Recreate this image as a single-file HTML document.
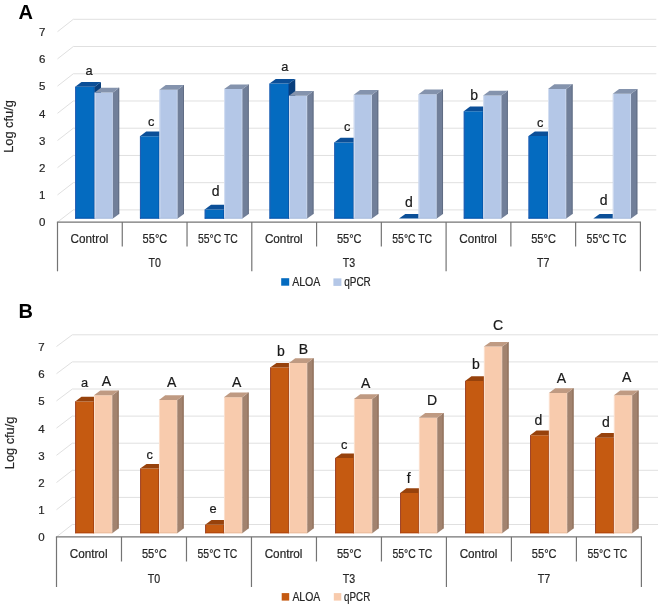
<!DOCTYPE html>
<html><head><meta charset="utf-8"><title>Chart</title>
<style>html,body{margin:0;padding:0;background:#fff;}body{width:660px;height:605px;overflow:hidden;font-family:"Liberation Sans",sans-serif;}svg{display:block;will-change:transform;}</style>
</head><body>
<svg width="660" height="605" viewBox="0 0 660 605" font-family='"Liberation Sans", sans-serif'>
<style>.ax{stroke:#262626;stroke-width:0.2px}</style><rect width="660" height="605" fill="#fff"/>
<polyline points="57.5,222.1 73.3,209.9 656.3,209.9" fill="none" stroke="#e0e0e0" stroke-width="1"/>
<polyline points="57.5,194.9 73.3,182.67 656.3,182.67" fill="none" stroke="#e0e0e0" stroke-width="1"/>
<polyline points="57.5,167.7 73.3,155.44 656.3,155.44" fill="none" stroke="#e0e0e0" stroke-width="1"/>
<polyline points="57.5,140.5 73.3,128.21 656.3,128.21" fill="none" stroke="#e0e0e0" stroke-width="1"/>
<polyline points="57.5,113.3 73.3,100.98 656.3,100.98" fill="none" stroke="#e0e0e0" stroke-width="1"/>
<polyline points="57.5,86.1 73.3,73.75 656.3,73.75" fill="none" stroke="#e0e0e0" stroke-width="1"/>
<polyline points="57.5,58.9 73.3,46.52 656.3,46.52" fill="none" stroke="#e0e0e0" stroke-width="1"/>
<polyline points="57.5,31.7 73.3,19.29 656.3,19.29" fill="none" stroke="#e0e0e0" stroke-width="1"/>
<text x="45.3" y="226.3" text-anchor="end" font-size="11.5" fill="#262626" stroke="#262626" stroke-width="0.2">0</text>
<text x="45.3" y="199.1" text-anchor="end" font-size="11.5" fill="#262626" stroke="#262626" stroke-width="0.2">1</text>
<text x="45.3" y="171.9" text-anchor="end" font-size="11.5" fill="#262626" stroke="#262626" stroke-width="0.2">2</text>
<text x="45.3" y="144.7" text-anchor="end" font-size="11.5" fill="#262626" stroke="#262626" stroke-width="0.2">3</text>
<text x="45.3" y="117.5" text-anchor="end" font-size="11.5" fill="#262626" stroke="#262626" stroke-width="0.2">4</text>
<text x="45.3" y="90.3" text-anchor="end" font-size="11.5" fill="#262626" stroke="#262626" stroke-width="0.2">5</text>
<text x="45.3" y="63.1" text-anchor="end" font-size="11.5" fill="#262626" stroke="#262626" stroke-width="0.2">6</text>
<text x="45.3" y="35.9" text-anchor="end" font-size="11.5" fill="#262626" stroke="#262626" stroke-width="0.2">7</text>
<text class="ax" transform="translate(12.8,126.5) rotate(-90)" text-anchor="middle" font-size="13" fill="#262626" textLength="52.6" lengthAdjust="spacingAndGlyphs">Log cfu/g</text>
<polygon points="75.18,86.8 94.68,86.8 94.68,218.6 75.18,218.6" fill="#046bc0"/>
<rect x="75.18" y="86.8" width="0.9" height="131.8" fill="#2a5cb0"/>
<rect x="93.78" y="86.8" width="0.9" height="131.8" fill="#0550a6"/>
<rect x="75.18" y="217.7" width="19.5" height="0.9" fill="#0750a8"/>
<polygon points="94.68,86.8 100.98,82.1 100.98,213.9 94.68,218.6" fill="#093f7c"/>
<polygon points="75.18,86.8 81.48,82.1 100.98,82.1 94.68,86.8" fill="#0b4f98"/>
<polygon points="94.68,92.5 112.88,92.5 112.88,218.6 94.68,218.6" fill="#b4c7e7"/>
<rect x="94.68" y="92.5" width="0.9" height="126.1" fill="#d6e0f2"/>
<rect x="111.98" y="92.5" width="0.9" height="126.1" fill="#c9d7ee"/>
<rect x="94.68" y="217.7" width="18.2" height="0.9" fill="#a9bcdc"/>
<polygon points="112.88,92.5 119.18,87.8 119.18,213.9 112.88,218.6" fill="#717f99"/>
<polygon points="118.28,87.8 119.18,87.8 119.18,213.9 118.28,213.9" fill="#5f6b82"/>
<polygon points="94.68,92.5 100.98,87.8 119.18,87.8 112.88,92.5" fill="#8493ad"/>
<polygon points="139.95,136.2 159.45,136.2 159.45,218.6 139.95,218.6" fill="#046bc0"/>
<rect x="139.95" y="136.2" width="0.9" height="82.4" fill="#2a5cb0"/>
<rect x="158.55" y="136.2" width="0.9" height="82.4" fill="#0550a6"/>
<rect x="139.95" y="217.7" width="19.5" height="0.9" fill="#0750a8"/>
<polygon points="159.45,136.2 165.75,131.5 165.75,213.9 159.45,218.6" fill="#093f7c"/>
<polygon points="139.95,136.2 146.25,131.5 165.75,131.5 159.45,136.2" fill="#0b4f98"/>
<polygon points="159.45,89.8 177.65,89.8 177.65,218.6 159.45,218.6" fill="#b4c7e7"/>
<rect x="159.45" y="89.8" width="0.9" height="128.8" fill="#d6e0f2"/>
<rect x="176.75" y="89.8" width="0.9" height="128.8" fill="#c9d7ee"/>
<rect x="159.45" y="217.7" width="18.2" height="0.9" fill="#a9bcdc"/>
<polygon points="177.65,89.8 183.95,85.1 183.95,213.9 177.65,218.6" fill="#717f99"/>
<polygon points="183.05,85.1 183.95,85.1 183.95,213.9 183.05,213.9" fill="#5f6b82"/>
<polygon points="159.45,89.8 165.75,85.1 183.95,85.1 177.65,89.8" fill="#8493ad"/>
<polygon points="204.72,209.5 224.22,209.5 224.22,218.6 204.72,218.6" fill="#046bc0"/>
<rect x="204.72" y="209.5" width="0.9" height="9.1" fill="#2a5cb0"/>
<rect x="223.32" y="209.5" width="0.9" height="9.1" fill="#0550a6"/>
<rect x="204.72" y="217.7" width="19.5" height="0.9" fill="#0750a8"/>
<polygon points="224.22,209.5 230.52,204.8 230.52,213.9 224.22,218.6" fill="#093f7c"/>
<polygon points="204.72,209.5 211.02,204.8 230.52,204.8 224.22,209.5" fill="#0b4f98"/>
<polygon points="224.22,89.1 242.42,89.1 242.42,218.6 224.22,218.6" fill="#b4c7e7"/>
<rect x="224.22" y="89.1" width="0.9" height="129.5" fill="#d6e0f2"/>
<rect x="241.52" y="89.1" width="0.9" height="129.5" fill="#c9d7ee"/>
<rect x="224.22" y="217.7" width="18.2" height="0.9" fill="#a9bcdc"/>
<polygon points="242.42,89.1 248.72,84.4 248.72,213.9 242.42,218.6" fill="#717f99"/>
<polygon points="247.82,84.4 248.72,84.4 248.72,213.9 247.82,213.9" fill="#5f6b82"/>
<polygon points="224.22,89.1 230.52,84.4 248.72,84.4 242.42,89.1" fill="#8493ad"/>
<polygon points="269.48,83.6 288.98,83.6 288.98,218.6 269.48,218.6" fill="#046bc0"/>
<rect x="269.48" y="83.6" width="0.9" height="135" fill="#2a5cb0"/>
<rect x="288.08" y="83.6" width="0.9" height="135" fill="#0550a6"/>
<rect x="269.48" y="217.7" width="19.5" height="0.9" fill="#0750a8"/>
<polygon points="288.98,83.6 295.28,78.9 295.28,213.9 288.98,218.6" fill="#093f7c"/>
<polygon points="269.48,83.6 275.78,78.9 295.28,78.9 288.98,83.6" fill="#0b4f98"/>
<polygon points="288.98,95.8 307.18,95.8 307.18,218.6 288.98,218.6" fill="#b4c7e7"/>
<rect x="288.98" y="95.8" width="0.9" height="122.8" fill="#d6e0f2"/>
<rect x="306.28" y="95.8" width="0.9" height="122.8" fill="#c9d7ee"/>
<rect x="288.98" y="217.7" width="18.2" height="0.9" fill="#a9bcdc"/>
<polygon points="307.18,95.8 313.48,91.1 313.48,213.9 307.18,218.6" fill="#717f99"/>
<polygon points="312.58,91.1 313.48,91.1 313.48,213.9 312.58,213.9" fill="#5f6b82"/>
<polygon points="288.98,95.8 295.28,91.1 313.48,91.1 307.18,95.8" fill="#8493ad"/>
<polygon points="334.25,142.5 353.75,142.5 353.75,218.6 334.25,218.6" fill="#046bc0"/>
<rect x="334.25" y="142.5" width="0.9" height="76.1" fill="#2a5cb0"/>
<rect x="352.85" y="142.5" width="0.9" height="76.1" fill="#0550a6"/>
<rect x="334.25" y="217.7" width="19.5" height="0.9" fill="#0750a8"/>
<polygon points="353.75,142.5 360.05,137.8 360.05,213.9 353.75,218.6" fill="#093f7c"/>
<polygon points="334.25,142.5 340.55,137.8 360.05,137.8 353.75,142.5" fill="#0b4f98"/>
<polygon points="353.75,94.8 371.95,94.8 371.95,218.6 353.75,218.6" fill="#b4c7e7"/>
<rect x="353.75" y="94.8" width="0.9" height="123.8" fill="#d6e0f2"/>
<rect x="371.05" y="94.8" width="0.9" height="123.8" fill="#c9d7ee"/>
<rect x="353.75" y="217.7" width="18.2" height="0.9" fill="#a9bcdc"/>
<polygon points="371.95,94.8 378.25,90.1 378.25,213.9 371.95,218.6" fill="#717f99"/>
<polygon points="377.35,90.1 378.25,90.1 378.25,213.9 377.35,213.9" fill="#5f6b82"/>
<polygon points="353.75,94.8 360.05,90.1 378.25,90.1 371.95,94.8" fill="#8493ad"/>
<polygon points="418.52,218.6 424.82,213.9 424.82,213.9 418.52,218.6" fill="#093f7c"/>
<polygon points="399.02,218.6 405.32,213.9 424.82,213.9 418.52,218.6" fill="#0b4f98"/>
<polygon points="418.52,94.2 436.72,94.2 436.72,218.6 418.52,218.6" fill="#b4c7e7"/>
<rect x="418.52" y="94.2" width="0.9" height="124.4" fill="#d6e0f2"/>
<rect x="435.82" y="94.2" width="0.9" height="124.4" fill="#c9d7ee"/>
<rect x="418.52" y="217.7" width="18.2" height="0.9" fill="#a9bcdc"/>
<polygon points="436.72,94.2 443.02,89.5 443.02,213.9 436.72,218.6" fill="#717f99"/>
<polygon points="442.12,89.5 443.02,89.5 443.02,213.9 442.12,213.9" fill="#5f6b82"/>
<polygon points="418.52,94.2 424.82,89.5 443.02,89.5 436.72,94.2" fill="#8493ad"/>
<polygon points="463.78,111.3 483.28,111.3 483.28,218.6 463.78,218.6" fill="#046bc0"/>
<rect x="463.78" y="111.3" width="0.9" height="107.3" fill="#2a5cb0"/>
<rect x="482.38" y="111.3" width="0.9" height="107.3" fill="#0550a6"/>
<rect x="463.78" y="217.7" width="19.5" height="0.9" fill="#0750a8"/>
<polygon points="483.28,111.3 489.58,106.6 489.58,213.9 483.28,218.6" fill="#093f7c"/>
<polygon points="463.78,111.3 470.08,106.6 489.58,106.6 483.28,111.3" fill="#0b4f98"/>
<polygon points="483.28,95.4 501.48,95.4 501.48,218.6 483.28,218.6" fill="#b4c7e7"/>
<rect x="483.28" y="95.4" width="0.9" height="123.2" fill="#d6e0f2"/>
<rect x="500.58" y="95.4" width="0.9" height="123.2" fill="#c9d7ee"/>
<rect x="483.28" y="217.7" width="18.2" height="0.9" fill="#a9bcdc"/>
<polygon points="501.48,95.4 507.78,90.7 507.78,213.9 501.48,218.6" fill="#717f99"/>
<polygon points="506.88,90.7 507.78,90.7 507.78,213.9 506.88,213.9" fill="#5f6b82"/>
<polygon points="483.28,95.4 489.58,90.7 507.78,90.7 501.48,95.4" fill="#8493ad"/>
<polygon points="528.55,136.1 548.05,136.1 548.05,218.6 528.55,218.6" fill="#046bc0"/>
<rect x="528.55" y="136.1" width="0.9" height="82.5" fill="#2a5cb0"/>
<rect x="547.15" y="136.1" width="0.9" height="82.5" fill="#0550a6"/>
<rect x="528.55" y="217.7" width="19.5" height="0.9" fill="#0750a8"/>
<polygon points="548.05,136.1 554.35,131.4 554.35,213.9 548.05,218.6" fill="#093f7c"/>
<polygon points="528.55,136.1 534.85,131.4 554.35,131.4 548.05,136.1" fill="#0b4f98"/>
<polygon points="548.05,88.9 566.25,88.9 566.25,218.6 548.05,218.6" fill="#b4c7e7"/>
<rect x="548.05" y="88.9" width="0.9" height="129.7" fill="#d6e0f2"/>
<rect x="565.35" y="88.9" width="0.9" height="129.7" fill="#c9d7ee"/>
<rect x="548.05" y="217.7" width="18.2" height="0.9" fill="#a9bcdc"/>
<polygon points="566.25,88.9 572.55,84.2 572.55,213.9 566.25,218.6" fill="#717f99"/>
<polygon points="571.65,84.2 572.55,84.2 572.55,213.9 571.65,213.9" fill="#5f6b82"/>
<polygon points="548.05,88.9 554.35,84.2 572.55,84.2 566.25,88.9" fill="#8493ad"/>
<polygon points="612.82,218.6 619.12,213.9 619.12,213.9 612.82,218.6" fill="#093f7c"/>
<polygon points="593.32,218.6 599.62,213.9 619.12,213.9 612.82,218.6" fill="#0b4f98"/>
<polygon points="612.82,93.8 631.02,93.8 631.02,218.6 612.82,218.6" fill="#b4c7e7"/>
<rect x="612.82" y="93.8" width="0.9" height="124.8" fill="#d6e0f2"/>
<rect x="630.12" y="93.8" width="0.9" height="124.8" fill="#c9d7ee"/>
<rect x="612.82" y="217.7" width="18.2" height="0.9" fill="#a9bcdc"/>
<polygon points="631.02,93.8 637.32,89.1 637.32,213.9 631.02,218.6" fill="#717f99"/>
<polygon points="636.42,89.1 637.32,89.1 637.32,213.9 636.42,213.9" fill="#5f6b82"/>
<polygon points="612.82,93.8 619.12,89.1 637.32,89.1 631.02,93.8" fill="#8493ad"/>
<line x1="56.9" y1="222.1" x2="641" y2="222.1" stroke="#747474" stroke-width="1.2"/>
<line x1="57.5" y1="222.1" x2="57.5" y2="271.3" stroke="#747474" stroke-width="1.2"/>
<line x1="122.27" y1="222.1" x2="122.27" y2="246.5" stroke="#747474" stroke-width="1.2"/>
<line x1="187.03" y1="222.1" x2="187.03" y2="246.5" stroke="#747474" stroke-width="1.2"/>
<line x1="251.8" y1="222.1" x2="251.8" y2="271.3" stroke="#747474" stroke-width="1.2"/>
<line x1="316.57" y1="222.1" x2="316.57" y2="246.5" stroke="#747474" stroke-width="1.2"/>
<line x1="381.33" y1="222.1" x2="381.33" y2="246.5" stroke="#747474" stroke-width="1.2"/>
<line x1="446.1" y1="222.1" x2="446.1" y2="271.3" stroke="#747474" stroke-width="1.2"/>
<line x1="510.87" y1="222.1" x2="510.87" y2="246.5" stroke="#747474" stroke-width="1.2"/>
<line x1="575.63" y1="222.1" x2="575.63" y2="246.5" stroke="#747474" stroke-width="1.2"/>
<line x1="640.4" y1="222.1" x2="640.4" y2="271.3" stroke="#747474" stroke-width="1.2"/>
<text class="ax" x="89.48" y="242.6" text-anchor="middle" font-size="12" fill="#262626" textLength="37.8" lengthAdjust="spacingAndGlyphs">Control</text>
<text class="ax" x="154.95" y="242.6" text-anchor="middle" font-size="12" fill="#262626" textLength="24.7" lengthAdjust="spacingAndGlyphs">55°C</text>
<text class="ax" x="217.92" y="242.6" text-anchor="middle" font-size="12" fill="#262626" textLength="39.8" lengthAdjust="spacingAndGlyphs">55°C TC</text>
<text class="ax" x="283.78" y="242.6" text-anchor="middle" font-size="12" fill="#262626" textLength="37.8" lengthAdjust="spacingAndGlyphs">Control</text>
<text class="ax" x="349.25" y="242.6" text-anchor="middle" font-size="12" fill="#262626" textLength="24.7" lengthAdjust="spacingAndGlyphs">55°C</text>
<text class="ax" x="412.22" y="242.6" text-anchor="middle" font-size="12" fill="#262626" textLength="39.8" lengthAdjust="spacingAndGlyphs">55°C TC</text>
<text class="ax" x="478.08" y="242.6" text-anchor="middle" font-size="12" fill="#262626" textLength="37.8" lengthAdjust="spacingAndGlyphs">Control</text>
<text class="ax" x="543.55" y="242.6" text-anchor="middle" font-size="12" fill="#262626" textLength="24.7" lengthAdjust="spacingAndGlyphs">55°C</text>
<text class="ax" x="606.52" y="242.6" text-anchor="middle" font-size="12" fill="#262626" textLength="39.8" lengthAdjust="spacingAndGlyphs">55°C TC</text>
<text class="ax" x="154.65" y="267.2" text-anchor="middle" font-size="12" fill="#262626" textLength="12.4" lengthAdjust="spacingAndGlyphs">T0</text>
<text class="ax" x="348.95" y="267.2" text-anchor="middle" font-size="12" fill="#262626" textLength="12.4" lengthAdjust="spacingAndGlyphs">T3</text>
<text class="ax" x="543.25" y="267.2" text-anchor="middle" font-size="12" fill="#262626" textLength="12.4" lengthAdjust="spacingAndGlyphs">T7</text>
<text x="89" y="74.5" text-anchor="middle" font-size="12.8" fill="#1a1a1a" stroke="#1a1a1a" stroke-width="0.2">a</text>
<text x="151.2" y="125.8" text-anchor="middle" font-size="12.8" fill="#1a1a1a" stroke="#1a1a1a" stroke-width="0.2">c</text>
<text x="215.7" y="195.5" text-anchor="middle" font-size="14" fill="#1a1a1a" stroke="#1a1a1a" stroke-width="0.2">d</text>
<text x="284.8" y="71.4" text-anchor="middle" font-size="12.8" fill="#1a1a1a" stroke="#1a1a1a" stroke-width="0.2">a</text>
<text x="347.1" y="130.9" text-anchor="middle" font-size="12.8" fill="#1a1a1a" stroke="#1a1a1a" stroke-width="0.2">c</text>
<text x="409" y="206.8" text-anchor="middle" font-size="14" fill="#1a1a1a" stroke="#1a1a1a" stroke-width="0.2">d</text>
<text x="474.2" y="100.1" text-anchor="middle" font-size="14" fill="#1a1a1a" stroke="#1a1a1a" stroke-width="0.2">b</text>
<text x="540.3" y="126.7" text-anchor="middle" font-size="12.8" fill="#1a1a1a" stroke="#1a1a1a" stroke-width="0.2">c</text>
<text x="603.7" y="204.8" text-anchor="middle" font-size="14" fill="#1a1a1a" stroke="#1a1a1a" stroke-width="0.2">d</text>
<rect x="281.2" y="278.2" width="8" height="7.5" fill="#046bc0"/>
<rect x="333.4" y="278.4" width="8" height="7.5" fill="#b4c7e7"/>
<text class="ax" x="292.2" y="285.7" font-size="12" fill="#262626" textLength="28.2" lengthAdjust="spacingAndGlyphs">ALOA</text>
<text class="ax" x="344.2" y="285.7" font-size="12" fill="#262626" textLength="26.6" lengthAdjust="spacingAndGlyphs">qPCR</text>
<text x="18.4" y="19.3" font-size="20" font-weight="bold" fill="#000">A</text>
<polyline points="56.5,536.9 72.3,524.5 658,524.5" fill="none" stroke="#e0e0e0" stroke-width="1"/>
<polyline points="56.5,509.7 72.3,497.4 658,497.4" fill="none" stroke="#e0e0e0" stroke-width="1"/>
<polyline points="56.5,482.5 72.3,470.3 658,470.3" fill="none" stroke="#e0e0e0" stroke-width="1"/>
<polyline points="56.5,455.3 72.3,443.2 658,443.2" fill="none" stroke="#e0e0e0" stroke-width="1"/>
<polyline points="56.5,428.1 72.3,416.1 658,416.1" fill="none" stroke="#e0e0e0" stroke-width="1"/>
<polyline points="56.5,400.9 72.3,389 658,389" fill="none" stroke="#e0e0e0" stroke-width="1"/>
<polyline points="56.5,373.7 72.3,361.9 658,361.9" fill="none" stroke="#e0e0e0" stroke-width="1"/>
<polyline points="56.5,346.5 72.3,334.8 658,334.8" fill="none" stroke="#e0e0e0" stroke-width="1"/>
<text x="44.6" y="541.3" text-anchor="end" font-size="11.5" fill="#262626" stroke="#262626" stroke-width="0.2">0</text>
<text x="44.6" y="514.1" text-anchor="end" font-size="11.5" fill="#262626" stroke="#262626" stroke-width="0.2">1</text>
<text x="44.6" y="486.9" text-anchor="end" font-size="11.5" fill="#262626" stroke="#262626" stroke-width="0.2">2</text>
<text x="44.6" y="459.7" text-anchor="end" font-size="11.5" fill="#262626" stroke="#262626" stroke-width="0.2">3</text>
<text x="44.6" y="432.5" text-anchor="end" font-size="11.5" fill="#262626" stroke="#262626" stroke-width="0.2">4</text>
<text x="44.6" y="405.3" text-anchor="end" font-size="11.5" fill="#262626" stroke="#262626" stroke-width="0.2">5</text>
<text x="44.6" y="378.1" text-anchor="end" font-size="11.5" fill="#262626" stroke="#262626" stroke-width="0.2">6</text>
<text x="44.6" y="350.9" text-anchor="end" font-size="11.5" fill="#262626" stroke="#262626" stroke-width="0.2">7</text>
<text class="ax" transform="translate(13.8,442.9) rotate(-90)" text-anchor="middle" font-size="13" fill="#262626" textLength="52.6" lengthAdjust="spacingAndGlyphs">Log cfu/g</text>
<polygon points="75.19,401.4 93.99,401.4 93.99,533.2 75.19,533.2" fill="#c55a11"/>
<rect x="75.19" y="401.4" width="0.9" height="131.8" fill="#99402a"/>
<rect x="93.09" y="401.4" width="0.9" height="131.8" fill="#a3400e"/>
<rect x="75.19" y="532.3" width="18.8" height="0.9" fill="#b0440c"/>
<polygon points="93.99,401.4 100.29,396.7 100.29,528.5 93.99,533.2" fill="#86390a"/>
<polygon points="75.19,401.4 81.49,396.7 100.29,396.7 93.99,401.4" fill="#97420c"/>
<polygon points="93.99,395.3 112.29,395.3 112.29,533.2 93.99,533.2" fill="#f8cbad"/>
<rect x="93.99" y="395.3" width="0.9" height="137.9" fill="#fbe2d2"/>
<rect x="111.39" y="395.3" width="0.9" height="137.9" fill="#f3d2bc"/>
<rect x="93.99" y="532.3" width="18.3" height="0.9" fill="#eabb9c"/>
<polygon points="112.29,395.3 118.59,390.6 118.59,528.5 112.29,533.2" fill="#a2836f"/>
<polygon points="117.69,390.6 118.59,390.6 118.59,528.5 117.69,528.5" fill="#86654f"/>
<polygon points="93.99,395.3 100.29,390.6 118.59,390.6 112.29,395.3" fill="#bf9a82"/>
<polygon points="140.18,468.6 158.98,468.6 158.98,533.2 140.18,533.2" fill="#c55a11"/>
<rect x="140.18" y="468.6" width="0.9" height="64.6" fill="#99402a"/>
<rect x="158.08" y="468.6" width="0.9" height="64.6" fill="#a3400e"/>
<rect x="140.18" y="532.3" width="18.8" height="0.9" fill="#b0440c"/>
<polygon points="158.98,468.6 165.28,463.9 165.28,528.5 158.98,533.2" fill="#86390a"/>
<polygon points="140.18,468.6 146.48,463.9 165.28,463.9 158.98,468.6" fill="#97420c"/>
<polygon points="158.98,399.9 177.28,399.9 177.28,533.2 158.98,533.2" fill="#f8cbad"/>
<rect x="158.98" y="399.9" width="0.9" height="133.3" fill="#fbe2d2"/>
<rect x="176.38" y="399.9" width="0.9" height="133.3" fill="#f3d2bc"/>
<rect x="158.98" y="532.3" width="18.3" height="0.9" fill="#eabb9c"/>
<polygon points="177.28,399.9 183.58,395.2 183.58,528.5 177.28,533.2" fill="#a2836f"/>
<polygon points="182.68,395.2 183.58,395.2 183.58,528.5 182.68,528.5" fill="#86654f"/>
<polygon points="158.98,399.9 165.28,395.2 183.58,395.2 177.28,399.9" fill="#bf9a82"/>
<polygon points="205.17,524.8 223.97,524.8 223.97,533.2 205.17,533.2" fill="#c55a11"/>
<rect x="205.17" y="524.8" width="0.9" height="8.4" fill="#99402a"/>
<rect x="223.07" y="524.8" width="0.9" height="8.4" fill="#a3400e"/>
<rect x="205.17" y="532.3" width="18.8" height="0.9" fill="#b0440c"/>
<polygon points="223.97,524.8 230.27,520.1 230.27,528.5 223.97,533.2" fill="#86390a"/>
<polygon points="205.17,524.8 211.47,520.1 230.27,520.1 223.97,524.8" fill="#97420c"/>
<polygon points="223.97,397.3 242.27,397.3 242.27,533.2 223.97,533.2" fill="#f8cbad"/>
<rect x="223.97" y="397.3" width="0.9" height="135.9" fill="#fbe2d2"/>
<rect x="241.37" y="397.3" width="0.9" height="135.9" fill="#f3d2bc"/>
<rect x="223.97" y="532.3" width="18.3" height="0.9" fill="#eabb9c"/>
<polygon points="242.27,397.3 248.57,392.6 248.57,528.5 242.27,533.2" fill="#a2836f"/>
<polygon points="247.67,392.6 248.57,392.6 248.57,528.5 247.67,528.5" fill="#86654f"/>
<polygon points="223.97,397.3 230.27,392.6 248.57,392.6 242.27,397.3" fill="#bf9a82"/>
<polygon points="270.16,367.6 288.96,367.6 288.96,533.2 270.16,533.2" fill="#c55a11"/>
<rect x="270.16" y="367.6" width="0.9" height="165.6" fill="#99402a"/>
<rect x="288.06" y="367.6" width="0.9" height="165.6" fill="#a3400e"/>
<rect x="270.16" y="532.3" width="18.8" height="0.9" fill="#b0440c"/>
<polygon points="288.96,367.6 295.26,362.9 295.26,528.5 288.96,533.2" fill="#86390a"/>
<polygon points="270.16,367.6 276.46,362.9 295.26,362.9 288.96,367.6" fill="#97420c"/>
<polygon points="288.96,362.9 307.26,362.9 307.26,533.2 288.96,533.2" fill="#f8cbad"/>
<rect x="288.96" y="362.9" width="0.9" height="170.3" fill="#fbe2d2"/>
<rect x="306.36" y="362.9" width="0.9" height="170.3" fill="#f3d2bc"/>
<rect x="288.96" y="532.3" width="18.3" height="0.9" fill="#eabb9c"/>
<polygon points="307.26,362.9 313.56,358.2 313.56,528.5 307.26,533.2" fill="#a2836f"/>
<polygon points="312.66,358.2 313.56,358.2 313.56,528.5 312.66,528.5" fill="#86654f"/>
<polygon points="288.96,362.9 295.26,358.2 313.56,358.2 307.26,362.9" fill="#bf9a82"/>
<polygon points="335.15,458.1 353.95,458.1 353.95,533.2 335.15,533.2" fill="#c55a11"/>
<rect x="335.15" y="458.1" width="0.9" height="75.1" fill="#99402a"/>
<rect x="353.05" y="458.1" width="0.9" height="75.1" fill="#a3400e"/>
<rect x="335.15" y="532.3" width="18.8" height="0.9" fill="#b0440c"/>
<polygon points="353.95,458.1 360.25,453.4 360.25,528.5 353.95,533.2" fill="#86390a"/>
<polygon points="335.15,458.1 341.45,453.4 360.25,453.4 353.95,458.1" fill="#97420c"/>
<polygon points="353.95,398.9 372.25,398.9 372.25,533.2 353.95,533.2" fill="#f8cbad"/>
<rect x="353.95" y="398.9" width="0.9" height="134.3" fill="#fbe2d2"/>
<rect x="371.35" y="398.9" width="0.9" height="134.3" fill="#f3d2bc"/>
<rect x="353.95" y="532.3" width="18.3" height="0.9" fill="#eabb9c"/>
<polygon points="372.25,398.9 378.55,394.2 378.55,528.5 372.25,533.2" fill="#a2836f"/>
<polygon points="377.65,394.2 378.55,394.2 378.55,528.5 377.65,528.5" fill="#86654f"/>
<polygon points="353.95,398.9 360.25,394.2 378.55,394.2 372.25,398.9" fill="#bf9a82"/>
<polygon points="400.14,493 418.94,493 418.94,533.2 400.14,533.2" fill="#c55a11"/>
<rect x="400.14" y="493" width="0.9" height="40.2" fill="#99402a"/>
<rect x="418.04" y="493" width="0.9" height="40.2" fill="#a3400e"/>
<rect x="400.14" y="532.3" width="18.8" height="0.9" fill="#b0440c"/>
<polygon points="418.94,493 425.24,488.3 425.24,528.5 418.94,533.2" fill="#86390a"/>
<polygon points="400.14,493 406.44,488.3 425.24,488.3 418.94,493" fill="#97420c"/>
<polygon points="418.94,417.7 437.24,417.7 437.24,533.2 418.94,533.2" fill="#f8cbad"/>
<rect x="418.94" y="417.7" width="0.9" height="115.5" fill="#fbe2d2"/>
<rect x="436.34" y="417.7" width="0.9" height="115.5" fill="#f3d2bc"/>
<rect x="418.94" y="532.3" width="18.3" height="0.9" fill="#eabb9c"/>
<polygon points="437.24,417.7 443.54,413 443.54,528.5 437.24,533.2" fill="#a2836f"/>
<polygon points="442.64,413 443.54,413 443.54,528.5 442.64,528.5" fill="#86654f"/>
<polygon points="418.94,417.7 425.24,413 443.54,413 437.24,417.7" fill="#bf9a82"/>
<polygon points="465.13,380.9 483.93,380.9 483.93,533.2 465.13,533.2" fill="#c55a11"/>
<rect x="465.13" y="380.9" width="0.9" height="152.3" fill="#99402a"/>
<rect x="483.03" y="380.9" width="0.9" height="152.3" fill="#a3400e"/>
<rect x="465.13" y="532.3" width="18.8" height="0.9" fill="#b0440c"/>
<polygon points="483.93,380.9 490.23,376.2 490.23,528.5 483.93,533.2" fill="#86390a"/>
<polygon points="465.13,380.9 471.43,376.2 490.23,376.2 483.93,380.9" fill="#97420c"/>
<polygon points="483.93,346.6 502.23,346.6 502.23,533.2 483.93,533.2" fill="#f8cbad"/>
<rect x="483.93" y="346.6" width="0.9" height="186.6" fill="#fbe2d2"/>
<rect x="501.33" y="346.6" width="0.9" height="186.6" fill="#f3d2bc"/>
<rect x="483.93" y="532.3" width="18.3" height="0.9" fill="#eabb9c"/>
<polygon points="502.23,346.6 508.53,341.9 508.53,528.5 502.23,533.2" fill="#a2836f"/>
<polygon points="507.63,341.9 508.53,341.9 508.53,528.5 507.63,528.5" fill="#86654f"/>
<polygon points="483.93,346.6 490.23,341.9 508.53,341.9 502.23,346.6" fill="#bf9a82"/>
<polygon points="530.12,435.3 548.92,435.3 548.92,533.2 530.12,533.2" fill="#c55a11"/>
<rect x="530.12" y="435.3" width="0.9" height="97.9" fill="#99402a"/>
<rect x="548.02" y="435.3" width="0.9" height="97.9" fill="#a3400e"/>
<rect x="530.12" y="532.3" width="18.8" height="0.9" fill="#b0440c"/>
<polygon points="548.92,435.3 555.22,430.6 555.22,528.5 548.92,533.2" fill="#86390a"/>
<polygon points="530.12,435.3 536.42,430.6 555.22,430.6 548.92,435.3" fill="#97420c"/>
<polygon points="548.92,392.9 567.22,392.9 567.22,533.2 548.92,533.2" fill="#f8cbad"/>
<rect x="548.92" y="392.9" width="0.9" height="140.3" fill="#fbe2d2"/>
<rect x="566.32" y="392.9" width="0.9" height="140.3" fill="#f3d2bc"/>
<rect x="548.92" y="532.3" width="18.3" height="0.9" fill="#eabb9c"/>
<polygon points="567.22,392.9 573.52,388.2 573.52,528.5 567.22,533.2" fill="#a2836f"/>
<polygon points="572.62,388.2 573.52,388.2 573.52,528.5 572.62,528.5" fill="#86654f"/>
<polygon points="548.92,392.9 555.22,388.2 573.52,388.2 567.22,392.9" fill="#bf9a82"/>
<polygon points="595.11,437.8 613.91,437.8 613.91,533.2 595.11,533.2" fill="#c55a11"/>
<rect x="595.11" y="437.8" width="0.9" height="95.4" fill="#99402a"/>
<rect x="613.01" y="437.8" width="0.9" height="95.4" fill="#a3400e"/>
<rect x="595.11" y="532.3" width="18.8" height="0.9" fill="#b0440c"/>
<polygon points="613.91,437.8 620.21,433.1 620.21,528.5 613.91,533.2" fill="#86390a"/>
<polygon points="595.11,437.8 601.41,433.1 620.21,433.1 613.91,437.8" fill="#97420c"/>
<polygon points="613.91,395.2 632.21,395.2 632.21,533.2 613.91,533.2" fill="#f8cbad"/>
<rect x="613.91" y="395.2" width="0.9" height="138" fill="#fbe2d2"/>
<rect x="631.31" y="395.2" width="0.9" height="138" fill="#f3d2bc"/>
<rect x="613.91" y="532.3" width="18.3" height="0.9" fill="#eabb9c"/>
<polygon points="632.21,395.2 638.51,390.5 638.51,528.5 632.21,533.2" fill="#a2836f"/>
<polygon points="637.61,390.5 638.51,390.5 638.51,528.5 637.61,528.5" fill="#86654f"/>
<polygon points="613.91,395.2 620.21,390.5 638.51,390.5 632.21,395.2" fill="#bf9a82"/>
<line x1="55.9" y1="536.9" x2="642" y2="536.9" stroke="#747474" stroke-width="1.2"/>
<line x1="56.5" y1="536.9" x2="56.5" y2="587" stroke="#747474" stroke-width="1.2"/>
<line x1="121.49" y1="536.9" x2="121.49" y2="561.5" stroke="#747474" stroke-width="1.2"/>
<line x1="186.48" y1="536.9" x2="186.48" y2="561.5" stroke="#747474" stroke-width="1.2"/>
<line x1="251.47" y1="536.9" x2="251.47" y2="587" stroke="#747474" stroke-width="1.2"/>
<line x1="316.46" y1="536.9" x2="316.46" y2="561.5" stroke="#747474" stroke-width="1.2"/>
<line x1="381.44" y1="536.9" x2="381.44" y2="561.5" stroke="#747474" stroke-width="1.2"/>
<line x1="446.43" y1="536.9" x2="446.43" y2="587" stroke="#747474" stroke-width="1.2"/>
<line x1="511.42" y1="536.9" x2="511.42" y2="561.5" stroke="#747474" stroke-width="1.2"/>
<line x1="576.41" y1="536.9" x2="576.41" y2="561.5" stroke="#747474" stroke-width="1.2"/>
<line x1="641.4" y1="536.9" x2="641.4" y2="587" stroke="#747474" stroke-width="1.2"/>
<text class="ax" x="88.59" y="557.7" text-anchor="middle" font-size="12" fill="#262626" textLength="37.8" lengthAdjust="spacingAndGlyphs">Control</text>
<text class="ax" x="154.28" y="557.7" text-anchor="middle" font-size="12" fill="#262626" textLength="24.7" lengthAdjust="spacingAndGlyphs">55°C</text>
<text class="ax" x="217.47" y="557.7" text-anchor="middle" font-size="12" fill="#262626" textLength="39.8" lengthAdjust="spacingAndGlyphs">55°C TC</text>
<text class="ax" x="283.56" y="557.7" text-anchor="middle" font-size="12" fill="#262626" textLength="37.8" lengthAdjust="spacingAndGlyphs">Control</text>
<text class="ax" x="349.25" y="557.7" text-anchor="middle" font-size="12" fill="#262626" textLength="24.7" lengthAdjust="spacingAndGlyphs">55°C</text>
<text class="ax" x="412.44" y="557.7" text-anchor="middle" font-size="12" fill="#262626" textLength="39.8" lengthAdjust="spacingAndGlyphs">55°C TC</text>
<text class="ax" x="478.53" y="557.7" text-anchor="middle" font-size="12" fill="#262626" textLength="37.8" lengthAdjust="spacingAndGlyphs">Control</text>
<text class="ax" x="544.22" y="557.7" text-anchor="middle" font-size="12" fill="#262626" textLength="24.7" lengthAdjust="spacingAndGlyphs">55°C</text>
<text class="ax" x="607.41" y="557.7" text-anchor="middle" font-size="12" fill="#262626" textLength="39.8" lengthAdjust="spacingAndGlyphs">55°C TC</text>
<text class="ax" x="153.98" y="582.5" text-anchor="middle" font-size="12" fill="#262626" textLength="12.4" lengthAdjust="spacingAndGlyphs">T0</text>
<text class="ax" x="348.95" y="582.5" text-anchor="middle" font-size="12" fill="#262626" textLength="12.4" lengthAdjust="spacingAndGlyphs">T3</text>
<text class="ax" x="543.92" y="582.5" text-anchor="middle" font-size="12" fill="#262626" textLength="12.4" lengthAdjust="spacingAndGlyphs">T7</text>
<text x="84.5" y="387.3" text-anchor="middle" font-size="12.8" fill="#1a1a1a" stroke="#1a1a1a" stroke-width="0.2">a</text>
<text x="106.4" y="385.7" text-anchor="middle" font-size="14" fill="#1a1a1a" stroke="#1a1a1a" stroke-width="0.2">A</text>
<text x="149.6" y="458.8" text-anchor="middle" font-size="12.8" fill="#1a1a1a" stroke="#1a1a1a" stroke-width="0.2">c</text>
<text x="171.6" y="387" text-anchor="middle" font-size="14" fill="#1a1a1a" stroke="#1a1a1a" stroke-width="0.2">A</text>
<text x="213" y="513.2" text-anchor="middle" font-size="12.8" fill="#1a1a1a" stroke="#1a1a1a" stroke-width="0.2">e</text>
<text x="236.7" y="386.8" text-anchor="middle" font-size="14" fill="#1a1a1a" stroke="#1a1a1a" stroke-width="0.2">A</text>
<text x="280.9" y="356.3" text-anchor="middle" font-size="14" fill="#1a1a1a" stroke="#1a1a1a" stroke-width="0.2">b</text>
<text x="303.3" y="353.5" text-anchor="middle" font-size="14" fill="#1a1a1a" stroke="#1a1a1a" stroke-width="0.2">B</text>
<text x="344.2" y="448.5" text-anchor="middle" font-size="12.8" fill="#1a1a1a" stroke="#1a1a1a" stroke-width="0.2">c</text>
<text x="365.6" y="387.7" text-anchor="middle" font-size="14" fill="#1a1a1a" stroke="#1a1a1a" stroke-width="0.2">A</text>
<text x="408.8" y="482.6" text-anchor="middle" font-size="14" fill="#1a1a1a" stroke="#1a1a1a" stroke-width="0.2">f</text>
<text x="432" y="405" text-anchor="middle" font-size="14" fill="#1a1a1a" stroke="#1a1a1a" stroke-width="0.2">D</text>
<text x="475.9" y="369.3" text-anchor="middle" font-size="14" fill="#1a1a1a" stroke="#1a1a1a" stroke-width="0.2">b</text>
<text x="498" y="330.1" text-anchor="middle" font-size="14" fill="#1a1a1a" stroke="#1a1a1a" stroke-width="0.2">C</text>
<text x="538.3" y="424.6" text-anchor="middle" font-size="14" fill="#1a1a1a" stroke="#1a1a1a" stroke-width="0.2">d</text>
<text x="561.5" y="382.7" text-anchor="middle" font-size="14" fill="#1a1a1a" stroke="#1a1a1a" stroke-width="0.2">A</text>
<text x="605.9" y="426.5" text-anchor="middle" font-size="14" fill="#1a1a1a" stroke="#1a1a1a" stroke-width="0.2">d</text>
<text x="626.6" y="382.2" text-anchor="middle" font-size="14" fill="#1a1a1a" stroke="#1a1a1a" stroke-width="0.2">A</text>
<rect x="281.7" y="593.1" width="7.5" height="7.5" fill="#c55a11"/>
<rect x="333.8" y="593.1" width="7.5" height="7.5" fill="#f8cbad"/>
<text class="ax" x="292.4" y="600.6" font-size="12" fill="#262626" textLength="27.8" lengthAdjust="spacingAndGlyphs">ALOA</text>
<text class="ax" x="344.1" y="600.6" font-size="12" fill="#262626" textLength="26.2" lengthAdjust="spacingAndGlyphs">qPCR</text>
<text x="18.6" y="318.1" font-size="20" font-weight="bold" fill="#000">B</text>
</svg>
</body></html>
